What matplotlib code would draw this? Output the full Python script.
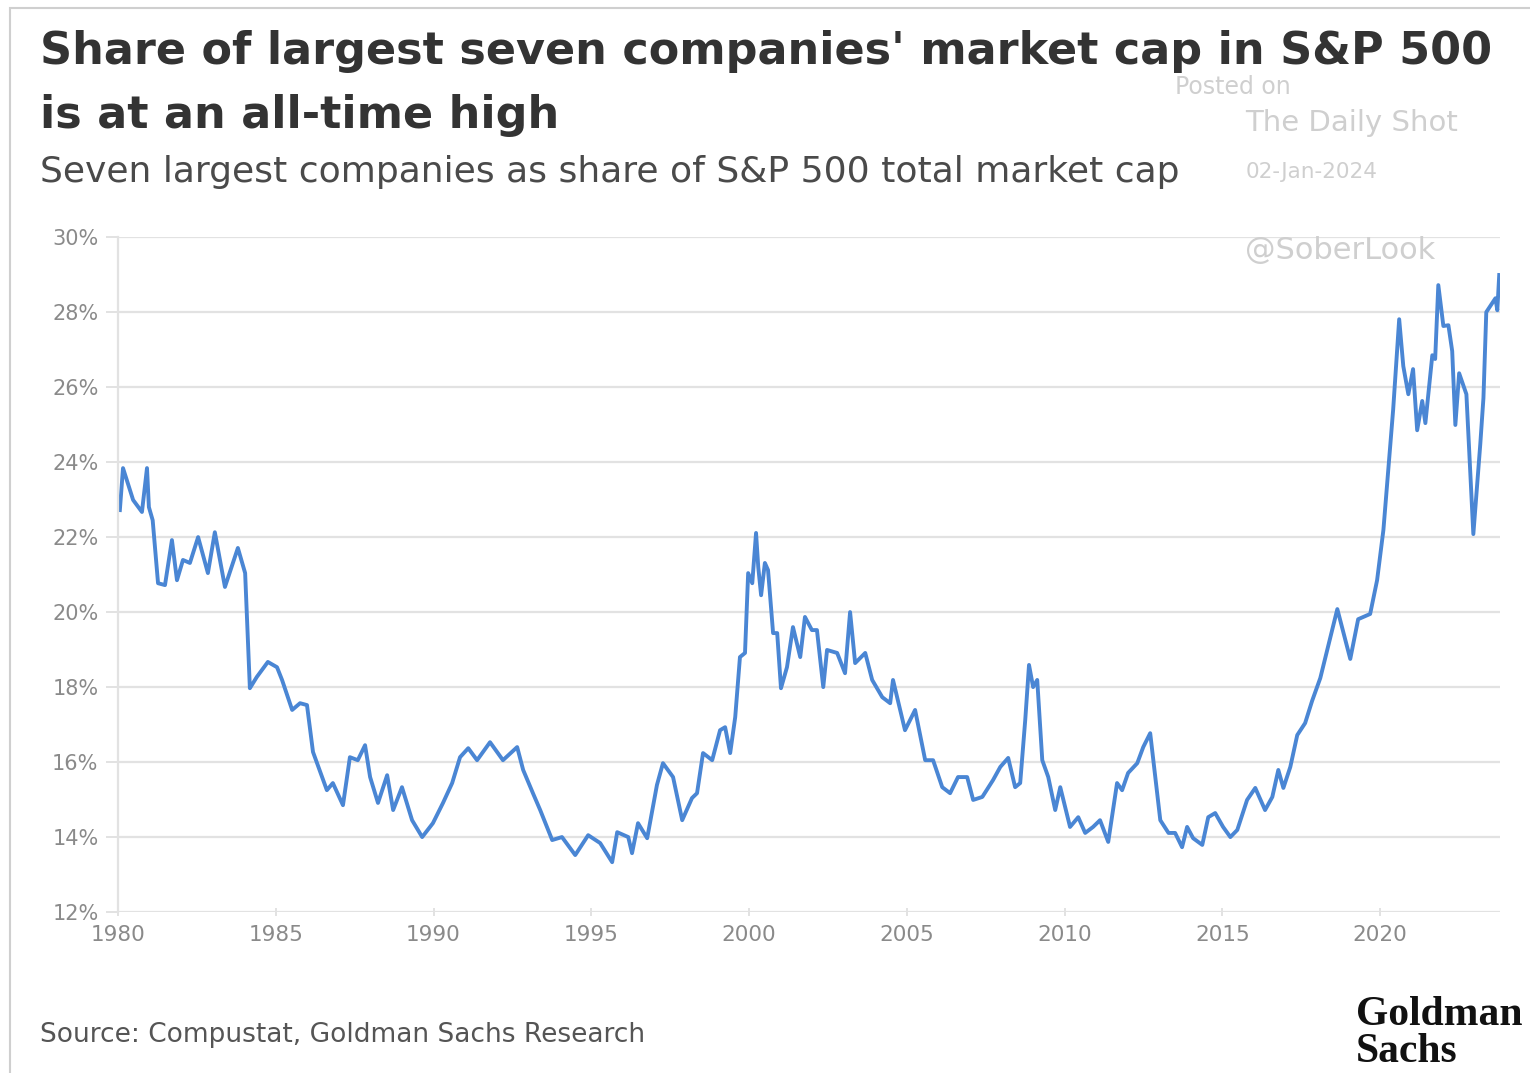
import matplotlib
matplotlib.use("Agg")
import matplotlib.pyplot as plt
from matplotlib.patches import Rectangle
from matplotlib.ticker import FuncFormatter

# share of S&P 500 market cap held by the seven largest companies (%)
years = [
    1980.06, 1980.16, 1980.48, 1980.76, 1980.92, 1980.98, 1981.10, 1981.27, 1981.49, 1981.71,
    1981.87, 1982.06, 1982.28, 1982.54, 1982.85, 1983.07, 1983.39, 1983.80, 1984.03, 1984.18,
    1984.40, 1984.75, 1985.04, 1985.20, 1985.52, 1985.77, 1985.99, 1986.18, 1986.62, 1986.81,
    1987.13, 1987.35, 1987.60, 1987.83, 1987.99, 1988.24, 1988.53, 1988.72, 1989.00, 1989.32,
    1989.64, 1989.98, 1990.30, 1990.59, 1990.84, 1991.10, 1991.38, 1991.79, 1992.20, 1992.65,
    1992.84, 1993.15, 1993.38, 1993.76, 1994.07, 1994.49, 1994.90, 1995.28, 1995.66, 1995.82,
    1996.17, 1996.29, 1996.48, 1996.77, 1997.08, 1997.27, 1997.59, 1997.88, 1998.19, 1998.35,
    1998.54, 1998.83, 1999.08, 1999.24, 1999.40, 1999.56, 1999.71, 1999.87, 1999.97, 2000.10,
    2000.22, 2000.29, 2000.38, 2000.50, 2000.60, 2000.76, 2000.89, 2001.01, 2001.20, 2001.39,
    2001.62, 2001.77, 2001.99, 2002.15, 2002.35, 2002.47, 2002.79, 2003.04, 2003.20, 2003.36,
    2003.68, 2003.90, 2004.22, 2004.47, 2004.56, 2004.94, 2005.26, 2005.58, 2005.83, 2006.12,
    2006.37, 2006.62, 2006.91, 2007.10, 2007.39, 2007.73, 2007.96, 2008.21, 2008.43, 2008.59,
    2008.75, 2008.87, 2009.00, 2009.13, 2009.29, 2009.48, 2009.70, 2009.86, 2010.17, 2010.43,
    2010.65, 2010.90, 2011.12, 2011.38, 2011.66, 2011.82, 2012.01, 2012.30, 2012.49, 2012.71,
    2013.03, 2013.29, 2013.50, 2013.72, 2013.88, 2014.07, 2014.36, 2014.55, 2014.77, 2015.02,
    2015.25, 2015.47, 2015.78, 2016.04, 2016.35, 2016.58, 2016.77, 2016.93, 2017.15, 2017.37,
    2017.62, 2017.84, 2018.10, 2018.35, 2018.64, 2019.05, 2019.30, 2019.68, 2019.90, 2020.10,
    2020.32, 2020.41, 2020.60, 2020.73, 2020.89, 2021.04, 2021.17, 2021.33, 2021.43, 2021.65,
    2021.74, 2021.84, 2022.00, 2022.16, 2022.28, 2022.38, 2022.50, 2022.73, 2022.95, 2023.17,
    2023.27, 2023.36, 2023.65, 2023.71, 2023.77,
]
share = [
    22.72, 23.84, 22.99, 22.67, 23.84, 22.80, 22.45, 20.77, 20.72, 21.92,
    20.85, 21.39, 21.31, 22.00, 21.04, 22.13, 20.67, 21.71, 21.04, 17.97,
    18.27, 18.67, 18.53, 18.19, 17.39, 17.57, 17.52, 16.27, 15.25, 15.44,
    14.85, 16.13, 16.05, 16.45, 15.60, 14.91, 15.65, 14.72, 15.33, 14.45,
    14.00, 14.37, 14.91, 15.44, 16.13, 16.37, 16.05, 16.53, 16.05, 16.40,
    15.79, 15.17, 14.72, 13.92, 14.00, 13.52, 14.05, 13.84, 13.33, 14.13,
    14.00, 13.57, 14.37, 13.97, 15.39, 15.97, 15.60, 14.45, 15.04, 15.17,
    16.24, 16.05, 16.85, 16.93, 16.24, 17.20, 18.80, 18.91, 21.04, 20.77,
    22.11, 21.20, 20.45, 21.31, 21.12, 19.44, 19.44, 17.97, 18.53, 19.60,
    18.80, 19.87, 19.52, 19.52, 18.00, 18.99, 18.91, 18.37, 20.00, 18.64,
    18.91, 18.19, 17.73, 17.57, 18.19, 16.85, 17.39, 16.05, 16.05, 15.33,
    15.17, 15.60, 15.60, 14.99, 15.07, 15.52, 15.87, 16.11, 15.33, 15.44,
    17.12, 18.59, 18.00, 18.19, 16.05, 15.60, 14.72, 15.33, 14.27, 14.53,
    14.11, 14.27, 14.45, 13.87, 15.44, 15.25, 15.71, 15.97, 16.40, 16.77,
    14.45, 14.11, 14.11, 13.73, 14.27, 13.97, 13.79, 14.53, 14.64, 14.27,
    14.00, 14.19, 14.99, 15.31, 14.72, 15.07, 15.79, 15.31, 15.87, 16.72,
    17.04, 17.63, 18.24, 19.09, 20.08, 18.75, 19.81, 19.95, 20.85, 22.19,
    24.48, 25.41, 27.81, 26.56, 25.81, 26.48, 24.85, 25.63, 25.04, 26.85,
    26.75, 28.72, 27.63, 27.65, 26.96, 24.99, 26.37, 25.81, 22.08, 24.48,
    25.71, 28.00, 28.37, 28.05, 28.99,
]
year_ticks = [1980, 1985, 1990, 1995, 2000, 2005, 2010, 2015, 2020]
pct_ticks = [12, 14, 16, 18, 20, 22, 24, 26, 28, 30]

plt.rcParams['font.family'] = ['DejaVu Sans']

fig = plt.figure(figsize=(15.3, 10.73), dpi=100)
fig.patch.set_facecolor('white')
ax = fig.add_axes([0.0771, 0.150, 0.9034, 0.629])

ax.plot(years, share, color='#4a86d4', linewidth=2.8, solid_joinstyle='round')

ax.set_xlim(1980, 2023.8)
ax.set_ylim(12, 30)
ax.set_xticks(year_ticks)
ax.set_yticks(pct_ticks)
ax.yaxis.set_major_formatter(FuncFormatter(lambda v, p: '%d%%' % v))

ax.grid(axis='y', color='#e2e2e2', linewidth=1.6)
ax.set_axisbelow(True)
for s in ['top', 'right', 'bottom']:
    ax.spines[s].set_visible(False)
ax.spines['left'].set_color('#e2e2e2')
ax.spines['left'].set_linewidth(1.6)
ax.tick_params(axis='y', length=9, color='#e2e2e2', width=1.4, labelsize=15,
               labelcolor='#8a8a8a', pad=5)
ax.tick_params(axis='x', length=6, color='#e2e2e2', width=1.4, labelsize=15.5,
               labelcolor='#8a8a8a', pad=6, direction='inout')

# card border
fig.patches.append(Rectangle((0.0065, -0.01), 1.1, 1.0025, transform=fig.transFigure,
                             fill=False, edgecolor='#cfcfcf', linewidth=1.5))

# watermark
wm = '#cfcfcf'
fig.text(0.768, 0.919, "Posted on", fontsize=17, color=wm, va='center')
fig.text(0.814, 0.885, "The Daily Shot", fontsize=21, color=wm, va='center')
fig.text(0.814, 0.840, "02-Jan-2024", fontsize=15.5, color=wm, va='center')
fig.text(0.814, 0.767, "@SoberLook", fontsize=22, color=wm, va='center')

fig.text(0.026, 0.952, "Share of largest seven companies' market cap in S&P 500",
         fontsize=32, fontweight='bold', color='#333333', va='center')
fig.text(0.026, 0.892, "is at an all-time high",
         fontsize=32, fontweight='bold', color='#333333', va='center')
fig.text(0.026, 0.840, "Seven largest companies as share of S&P 500 total market cap",
         fontsize=26, color='#4a4a4a', va='center')

fig.text(0.026, 0.035, "Source: Compustat, Goldman Sachs Research",
         fontsize=19, color='#555555', va='center')
fig.text(0.886, 0.037, "Goldman\nSachs", fontsize=30, fontweight='bold',
         family=['Liberation Serif', 'DejaVu Serif'], color='#111111',
         va='center', linespacing=0.95)

fig.savefig('out.png', dpi=100, facecolor='white')
